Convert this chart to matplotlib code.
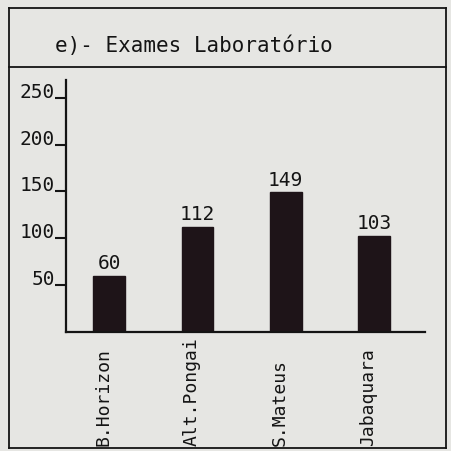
import matplotlib.pyplot as plt
from matplotlib.lines import Line2D
from matplotlib.transforms import ScaledTranslation, blended_transform_factory

# data
regioes = ['B.Horizon', 'Alt.Pongai', 'S.Mateus', 'Jabaquara']
exames = [60, 112, 149, 103]
y_ticks = [50, 100, 150, 200, 250]

bg = '#e6e6e3'
ink = '#141414'
bar_color = '#1e1418'
fonte = 'DejaVu Sans Mono'

fig = plt.figure(figsize=(4.52, 4.51), dpi=100, facecolor=bg)

# outer frame and title separator (figure coords)
W, H = 452.0, 451.0
def fx(px):
    return px / W
def fy(py):
    return 1 - py / H

lw_frame = 1.3
for xs, ys in [([9, 446], [8, 8]), ([9, 446], [448, 448]),
               ([9, 9], [8, 448]), ([446, 446], [8, 448]),
               ([9, 446], [67, 67])]:
    fig.add_artist(Line2D([fx(x) for x in xs], [fy(y) for y in ys],
                          color=ink, lw=lw_frame, zorder=10))

fig.text(fx(55), fy(46), 'e)- Exames Laboratório', fontsize=15,
         family=fonte, color=ink, ha='left', va='center')

# plot area
ax = fig.add_axes([fx(66), fy(332), (425 - 66) / W, (332 - 80) / H])
ax.set_facecolor('none')

x = list(range(len(regioes)))
bars = ax.bar(x, exames, width=0.36, color=bar_color, edgecolor=bar_color)
for rect, v in zip(bars, exames):
    ax.text(rect.get_x() + rect.get_width() / 2, v + 3, str(v),
            ha='center', va='bottom', fontsize=14, family=fonte, color=ink)

ax.set_xlim(-0.49, 3.58)
ax.set_ylim(0, 269)

ax.set_yticks(y_ticks)
ax.set_yticklabels([str(t) for t in y_ticks], family=fonte, fontsize=14,
                   color=ink, va='baseline')
ax.tick_params(axis='y', direction='out', length=8, width=1.5, pad=0,
               color=ink)

# category names: written upwards, starting just above the bottom frame
ax.set_xticks(x)
ax.set_xticklabels([])
ax.tick_params(axis='x', length=0)
trans = blended_transform_factory(ax.transData, ax.transAxes) + \
    ScaledTranslation(-6 / 100, 0, fig.dpi_scale_trans)
for xi, nome in zip(x, regioes):
    ax.text(xi, -0.452, nome, rotation=90, ha='center', va='bottom',
            family=fonte, fontsize=13, color=ink, transform=trans,
            clip_on=False)

for s in ['top', 'right']:
    ax.spines[s].set_visible(False)
for s in ['left', 'bottom']:
    ax.spines[s].set_linewidth(1.6)
    ax.spines[s].set_color(ink)
    ax.spines[s].set_zorder(3)

fig.savefig('out.png', dpi=100, facecolor=bg)
